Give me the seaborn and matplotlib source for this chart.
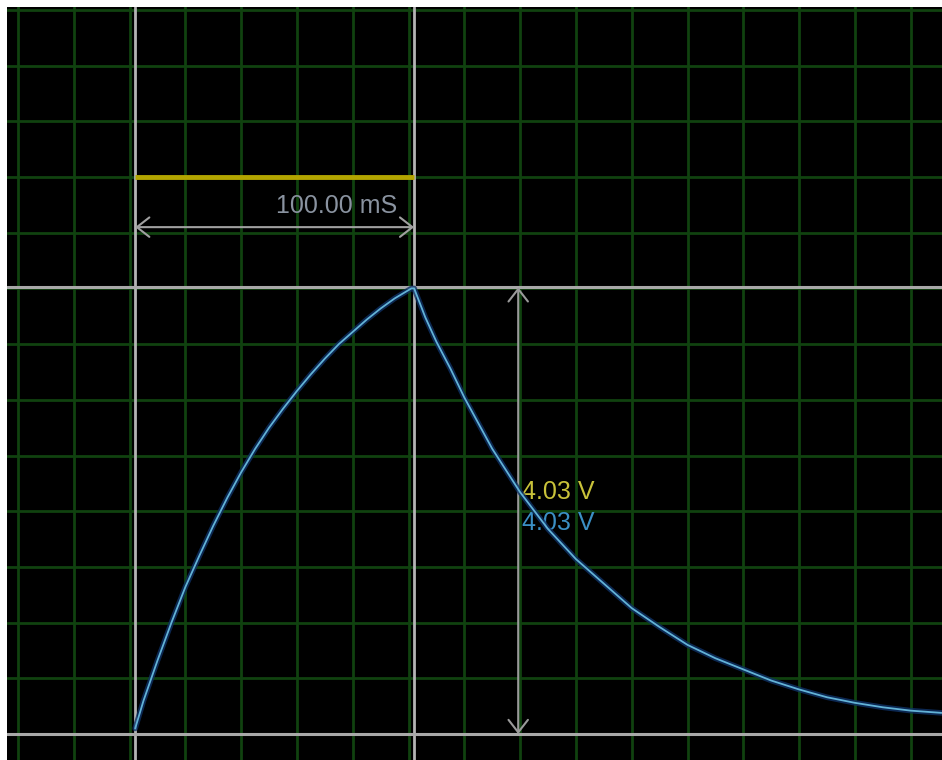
import matplotlib
matplotlib.use('Agg')
import matplotlib.pyplot as plt
import seaborn as sns
import numpy as np
import pandas as pd

# scope trace: time in ms, voltage in V
rise_t = [42, 45, 50, 55, 60, 65, 70, 75, 80, 85, 90, 95, 100, 105, 110,
          115, 120, 125, 130, 135, 141]
rise_v = [0.05, 0.30, 0.66, 1.00, 1.32, 1.60, 1.87, 2.12, 2.35, 2.56, 2.75,
          2.92, 3.08, 3.23, 3.37, 3.50, 3.61, 3.72, 3.82, 3.91, 4.00]
fall_t = [142, 146, 150, 155, 160, 170, 180, 190, 200, 210, 220, 230, 240,
          250, 260, 270, 280, 290, 300, 310, 320, 331]
fall_v = [4.00, 3.74, 3.52, 3.28, 3.02, 2.56, 2.17, 1.84, 1.57, 1.35, 1.13,
          0.96, 0.80, 0.68, 0.58, 0.48, 0.40, 0.33, 0.28, 0.24, 0.21, 0.19]

# cursors
cursor_t = [42, 142]      # ms
cursor_v = [0.0, 4.01]    # V
dt_label = '100.00 mS'
dv_label = '4.03 V'

time_div = 20    # ms / div
volt_div = 0.5   # V / div

sns.set_theme(style='dark')
plt.rcParams['font.family'] = ['Liberation Sans', 'DejaVu Sans']

trace = pd.DataFrame({'t': rise_t + fall_t, 'v': rise_v + fall_v})

fig = plt.figure(figsize=(9.42, 7.6), dpi=100, facecolor='white')
ax = fig.add_axes([7 / 942, 0, 935 / 942, 753 / 760])
ax.set_facecolor('black')
ax.set_xlim(-3.94, 331.2)
ax.set_ylim(-0.233, 6.526)
ax.set_xticks(np.arange(0, 331, time_div))
ax.set_yticks(np.arange(0, 6.6, volt_div))
ax.grid(True, color='#10420f', lw=2.0)
ax.tick_params(length=0, labelbottom=False, labelleft=False)
for s in ax.spines.values():
    s.set_visible(False)

# cursor lines
for t in cursor_t:
    ax.axvline(t, color='#b4b4b4', lw=2.0, zorder=2)
for v in cursor_v:
    ax.axhline(v, color='#a8a8a8', lw=2.2, zorder=2)

# yellow span bar between the time cursors
ax.hlines(5.0, cursor_t[0], cursor_t[1], color='#b3a500', lw=3.5, zorder=3)

# delta-t arrow
ax.annotate('', xy=(cursor_t[0], 4.55), xytext=(cursor_t[1], 4.55),
            arrowprops=dict(arrowstyle='<->,head_length=0.45,head_width=0.35',
                            color='#a0a0a0', lw=1.5, shrinkA=0, shrinkB=0,
                            mutation_scale=20), zorder=3)
ax.text(cursor_t[1] - 6, 4.68, dt_label, color='#8a93a0', fontsize=18,
        ha='right', va='baseline', zorder=4)

# delta-v arrow
ax.annotate('', xy=(179.3, cursor_v[0]), xytext=(179.3, cursor_v[1]),
            arrowprops=dict(arrowstyle='<->,head_length=0.45,head_width=0.35',
                            color='#9a9a9a', lw=1.5, shrinkA=0, shrinkB=0,
                            mutation_scale=20), zorder=3)
ax.text(180.7, 2.11, dv_label, color='#c9c23a', fontsize=18,
        ha='left', va='baseline', zorder=4)
ax.text(180.7, 1.83, dv_label, color='#3b8fc4', fontsize=18,
        ha='left', va='baseline', zorder=4)

# the trace: dark blue glow under a light cyan core
sns.lineplot(data=trace, x='t', y='v', ax=ax, estimator=None, sort=False,
             color='#0f3266', lw=4.0, alpha=0.8, zorder=5)
sns.lineplot(data=trace, x='t', y='v', ax=ax, estimator=None, sort=False,
             color='#62b2d6', lw=1.3, zorder=6)
ax.set_xlabel('')
ax.set_ylabel('')

fig.savefig('out.png', dpi=100, facecolor='white')
